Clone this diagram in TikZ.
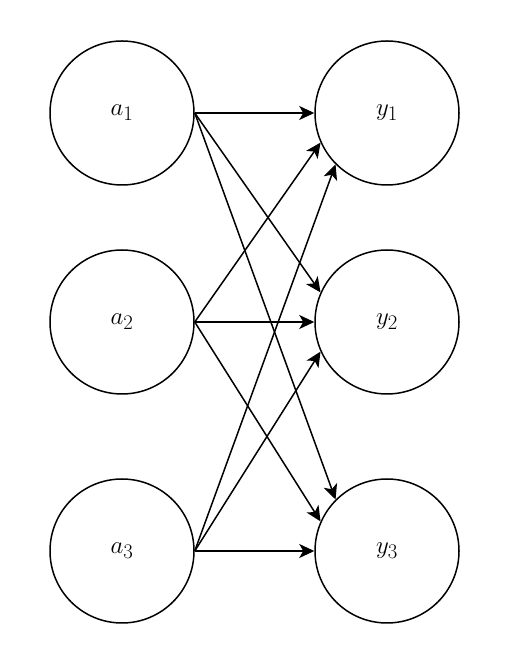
\documentclass[tikz,border=0pt]{standalone}
\usepackage{amsmath,amssymb}
\usepackage{xcolor,tikz}
\usetikzlibrary{arrows.meta,positioning}

\begin{document}
\begin{tikzpicture}[x=1pt,y=1pt,
  unit/.style={draw,circle,line width=1.5pt,minimum size=144pt,inner sep=0pt,font=\Huge},
  link/.style={line width=1.5pt,-{Stealth[length=15pt,width=14pt,inset=4pt]}}]
\useasboundingbox (0,0) rectangle (520,661);
% input layer
\node[unit] (a1) at (122,548){$a_1$};
\node[unit] (a2) at (122,339){$a_2$};
\node[unit] (a3) at (122,110){$a_3$};
% output layer
\node[unit] (y1) at (387,548){$y_1$};
\node[unit] (y2) at (387,339){$y_2$};
\node[unit] (y3) at (387,110){$y_3$};
% connections
\draw[link] (a1.east)--(y1.west);
\draw[link] (a1.east)--(y2.156);
\draw[link] (a1.east)--(y3.north west);
\draw[link] (a2.east)--(y1.204);
\draw[link] (a2.east)--(y2.west);
\draw[link] (a2.east)--(y3.156);
\draw[link] (a3.east)--(y1.south west);
\draw[link] (a3.east)--(y2.204);
\draw[link] (a3.east)--(y3.west);
\end{tikzpicture}
\end{document}
